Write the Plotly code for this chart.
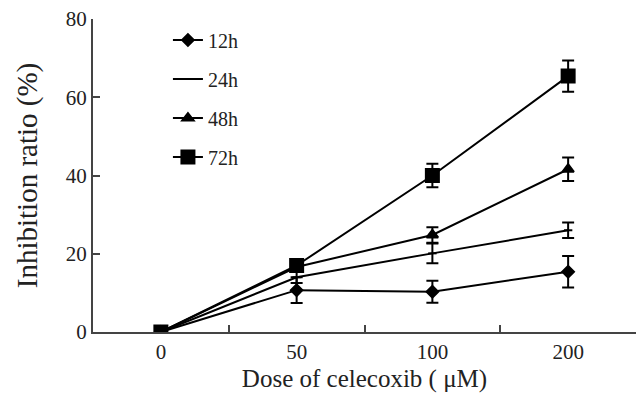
import plotly.graph_objects as go

doses = ["0", "50", "100", "200"]
series_names = ["12h", "24h", "48h", "72h"]
v12 = [0, 10.7, 10.3, 15.4]
e12 = [0, 3.3, 2.8, 4.0]
v24 = [0, 14.0, 20.1, 26.0]
e24 = [0, 1.5, 2.5, 2.0]
v48 = [0, 16.6, 24.8, 41.6]
e48 = [0, 1.0, 2.0, 3.0]
v72 = [0, 17.0, 40.0, 65.4]
e72 = [0, 1.2, 3.0, 4.0]

values = [v12, v24, v48, v72]
errors = [e12, e24, e48, e72]
symbols = ["diamond", "line-ew", "triangle-up", "square"]
sizes = [9, 6, 10, 13]

fig = go.Figure()
for i, name in enumerate(series_names):
    fig.add_trace(go.Scatter(
        x=doses, y=values[i], name=name, legendgroup=name,
        mode="lines+markers",
        line=dict(color="black", width=2),
        marker=dict(symbol=symbols[i], size=sizes[i], color="black",
                    line=dict(color="black", width=2)),
        error_y=dict(type="data", array=errors[i], visible=True,
                     color="black", thickness=2, width=6),
    ))

font_family = "Liberation Serif"
fig.update_layout(
    width=638, height=393,
    margin=dict(l=93, r=2, t=19, b=61),
    plot_bgcolor="white", paper_bgcolor="white",
    font=dict(family=font_family, size=21, color="#222"),
    showlegend=True,
    legend=dict(x=0.138, y=0.995, xanchor="left", yanchor="top",
                font=dict(size=20, family=font_family, color="#222"),
                tracegroupgap=10, bgcolor="rgba(0,0,0,0)"),
    xaxis=dict(type="category", range=[-0.5, 3.5], tickson="boundaries",
               ticks="inside", ticklen=7, tickwidth=2, tickcolor="#444",
               showline=True, linecolor="#444", linewidth=2,
               showgrid=False, zeroline=False,
               tickfont=dict(size=21, family=font_family),
               title=dict(text="Dose of celecoxib ( μM)",
                          font=dict(size=25, family=font_family), standoff=8)),
    yaxis=dict(range=[0, 80], dtick=20, ticks="inside", ticklen=7,
               tickwidth=2, tickcolor="#444",
               showline=True, linecolor="#444", linewidth=2,
               showgrid=False, zeroline=False,
               tickfont=dict(size=21, family=font_family),
               title=dict(text="Inhibition ratio (%)",
                          font=dict(size=29, family=font_family), standoff=20)),
)

fig.write_html("out.html")
